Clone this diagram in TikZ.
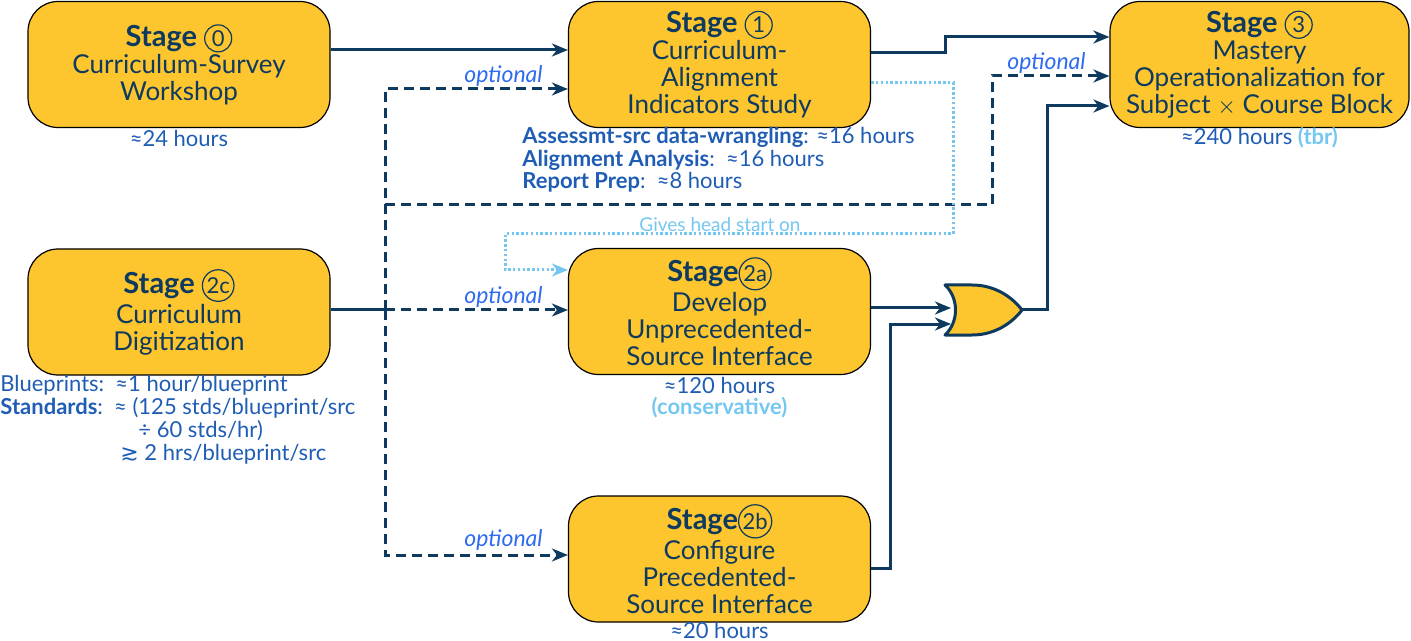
\documentclass[tikz,border=0pt]{standalone}
\usepackage{fontspec}
\setmainfont{Lato}
\newfontfamily\dejavu{DejaVu Sans}
\usetikzlibrary{arrows.meta}
\definecolor{boxfill}{HTML}{FDC52E}
\definecolor{navy}{HTML}{0D3A5E}
\definecolor{noteblue}{HTML}{1F5DB5}
\definecolor{optblue}{HTML}{2F6BF0}
\definecolor{lightblue}{HTML}{74C7F0}
\newcommand{\circd}[1]{\tikz[baseline=(cc.base)]\node[circle,draw=navy,line width=0.6pt,inner sep=0.6pt,minimum size=13.5pt,text=navy,font=\fontsize{11}{11}\selectfont\mdseries](cc){#1};}
\newcommand{\ttl}{\fontsize{14.5}{16}\selectfont\bfseries}
\tikzset{
  stagebox/.style={draw=black, line width=0.6pt, fill=boxfill, rounded corners=15pt,
    minimum width=151pt, minimum height=63pt, align=center, text=navy,
    font=\fontsize{13}{13.5}\selectfont, inner sep=0pt},
  note/.style={text=noteblue, font=\fontsize{11}{11.25}\selectfont, inner sep=0pt},
  optlabel/.style={text=optblue, font=\fontsize{11.5}{12}\selectfont\itshape, inner sep=0pt},
  flow/.style={draw=navy, line width=1.5pt},
  opt/.style={draw=navy, line width=1.5pt, dash pattern=on 5pt off 3pt},
  hint/.style={draw=lightblue, line width=1.5pt, dash pattern=on 1.2pt off 1.2pt},
}
\begin{document}
\begin{tikzpicture}[x=0.5pt,y=-0.5pt,>={Stealth[length=8pt,width=6.5pt,inset=2.5pt]}]
\useasboundingbox (0,0) rectangle (1411,641);

% stage boxes
\node[stagebox] (s0) at (179,64.5) {{\ttl Stage \circd{0}}\\Curriculum-Survey\\Workshop};
\node[stagebox] (s1) at (719.5,64.5) {{\ttl Stage \circd{1}}\\Curriculum-\\Alignment\\Indicators Study};
\node[stagebox, minimum width=149.5pt] (s3) at (1259.5,64.5) {{\ttl Stage \circd{3}}\\Mastery\\Operationalization for\\Subject $\times$ Course Block};
\node[stagebox] (s2c) at (179,312) {{\ttl Stage \circd{2c}}\\Curriculum\\Digitization};
\node[stagebox] (s2a) at (719.5,311.5) {{\ttl Stage\circd{2a}}\\Develop\\Unprecedented-\\Source Interface};
\node[stagebox] (s2b) at (719.5,559) {{\ttl Stage\circd{2b}}\\Configure\\Precedented-\\Source Interface};

% notes
\node[note] (n0) at (179,138) {≈24 hours};
\node[note, anchor=north west, align=left] (n1) at (522,127) {{\bfseries Assessmt-src data-wrangling}: ≈16 hours\\{\bfseries Alignment Analysis}:\ \ ≈16 hours\\{\bfseries Report Prep}:\ \ ≈8 hours};
\node[note] (n3) at (1259.5,138) {≈240 hours {\color{lightblue}\bfseries(tbr)}};
\node[note] (n2a) at (719.5,385) {≈120 hours};
\node[note, text=lightblue, font=\fontsize{11}{11.25}\selectfont\bfseries] (n2a2) at (719.5,408) {(conservative)};
\node[note] (n2b) at (719.5,630) {≈20 hours};
\node[note, anchor=west] (nc1) at (0,385) {Blueprints:\ \ ≈1 hour/blueprint};
\node[note, anchor=west] (nc2) at (0,408) {{\bfseries Standards}:\ \ ≈ (125 stds/blueprint/src};
\node[note, anchor=west] (nc3) at (138,431) {÷ 60 stds/hr)};
\node[note, anchor=west] (nc4) at (120,454) {{\dejavu ≳} 2 hrs/blueprint/src};

% coordinates
\coordinate (y50) at (0,50);
\coordinate (a1) at (945,53);
\coordinate (a2) at (945,37);
\coordinate (tk) at (385,310);
\coordinate (t1) at (385,89);
\coordinate (t2) at (385,555);
\coordinate (tm) at (385,205);
\coordinate (d1) at (992,205);
\coordinate (d2) at (992,76);
\coordinate (h1) at (953,83);
\coordinate (h2) at (953,234);
\coordinate (h3) at (505,234);
\coordinate (h4) at (505,270);
\coordinate (orA) at (951,308);
\coordinate (orB) at (951,324);
\coordinate (orO) at (1022,310);
\coordinate (b1) at (890,568);
\coordinate (b2) at (890,324);
\coordinate (o1) at (1047,310);
\coordinate (o2) at (1047,106);

% OR gate
\draw[navy, line width=1.5pt, fill=boxfill, line join=round]
  (945,285) -- (972,285) .. controls (995,285) and (1012,297) .. (orO)
  .. controls (1012,323) and (995,335) .. (972,335) -- (945,335)
  .. controls (959,322) and (959,298) .. (945,285) -- cycle;

% solid flows
\draw[flow,->] (s0.east |- y50) -- (s1.west |- y50);
\draw[flow,->] (s1.east |- a1) -- (a1) -- (a2) -- (s3.west |- a2);
\draw[flow,->] (s2a.east |- orA) -- (orA);
\draw[flow,->] (s2b.east |- b1) -- (b1) -- (b2) -- (orB);
\draw[flow,->] (orO) -- (o1) -- (o2) -- (s3.west |- o2);

% optional (dashed) flows
\draw[flow] (s2c.east |- tk) -- (tk);
\draw[opt,->] (tk) -- (s2a.west |- tk);
\draw[opt,->] (tk) -- (t1) -- (s1.west |- t1);
\draw[opt,->] (tk) -- (t2) -- (s2b.west |- t2);
\draw[opt,->] (tm) -- (d1) -- (d2) -- (s3.west |- d2);

% hint (dotted)
\draw[hint,->] (s1.east |- h1) -- (h1) -- (h2) -- (h3) -- (h4) -- (s2a.west |- h4);
\node[text=lightblue, font=\fontsize{9.5}{10}\selectfont, inner sep=0pt] (hl) at (720,225) {Gives head start on};

% optional labels
\node[optlabel, anchor=east] (o1l) at (543,76) {optional};
\node[optlabel, anchor=east] (o3l) at (1086,63) {optional};
\node[optlabel, anchor=east] (o2al) at (543,297) {optional};
\node[optlabel, anchor=east] (o2bl) at (543,540) {optional};
\end{tikzpicture}
\end{document}
